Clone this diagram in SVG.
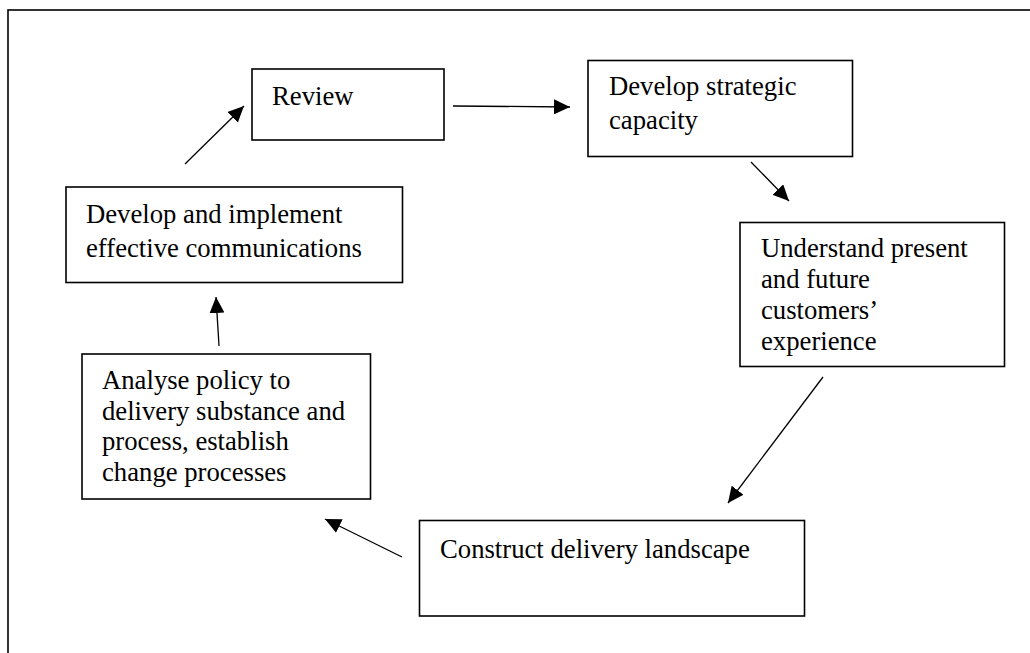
<svg xmlns="http://www.w3.org/2000/svg" width="1030" height="653" viewBox="0 0 1030 653">
<style>
.box{fill:#fff;stroke:#000;stroke-width:1.6}
.lbl{font-family:"Liberation Serif","Times New Roman",serif;font-size:26.7px;fill:#000}
.conn{stroke:#000;stroke-width:1.3;fill:none;marker-end:url(#ah)}
</style>
<defs>
<marker id="ah" markerUnits="userSpaceOnUse" markerWidth="16" markerHeight="15" refX="16" refY="7.5" orient="auto">
<path d="M0,0 L16,7.5 L0,15 z" fill="#000"/>
</marker>
</defs>
<rect width="1030" height="653" fill="#fff"/>
<rect x="8" y="10" width="1040" height="660" fill="none" stroke="#000" stroke-width="1.6"/>
<g id="connectors">
<line class="conn" x1="453" y1="106" x2="570" y2="107"/>
<line class="conn" x1="751" y1="162" x2="789" y2="201"/>
<line class="conn" x1="823" y1="377" x2="728" y2="503" stroke-width="1.6"/>
<line class="conn" x1="402" y1="557" x2="325" y2="519"/>
<line class="conn" x1="219" y1="346" x2="216" y2="297"/>
<line class="conn" x1="185" y1="164" x2="244" y2="106"/>
</g>
<g id="review">
<rect class="box" x="252" y="69" width="192" height="71"/>
<text class="lbl" x="272" y="105">Review</text>
</g>
<g id="strategic">
<rect class="box" x="588" y="60.5" width="264.5" height="96"/>
<text class="lbl" x="609" y="95">Develop strategic</text>
<text class="lbl" x="609" y="128.5">capacity</text>
</g>
<g id="understand">
<rect class="box" x="740" y="222.5" width="264.5" height="144"/>
<text class="lbl" x="761" y="256.5">Understand present</text>
<text class="lbl" x="761" y="288">and future</text>
<text class="lbl" x="761" y="319">customers’</text>
<text class="lbl" x="761" y="350">experience</text>
</g>
<g id="construct">
<rect class="box" x="419.5" y="520.5" width="385" height="95.5"/>
<text class="lbl" x="440" y="558">Construct delivery landscape</text>
</g>
<g id="analyse">
<rect class="box" x="82" y="354" width="288.5" height="145"/>
<text class="lbl" x="102" y="388.7">Analyse policy to</text>
<text class="lbl" x="102" y="419.7">delivery substance and</text>
<text class="lbl" x="102" y="449.7">process, establish</text>
<text class="lbl" x="102" y="480.7">change processes</text>
</g>
<g id="communications">
<rect class="box" x="66" y="187" width="336.5" height="95.5"/>
<text class="lbl" x="86" y="222.5">Develop and implement</text>
<text class="lbl" x="86" y="256.5">effective communications</text>
</g>
</svg>
